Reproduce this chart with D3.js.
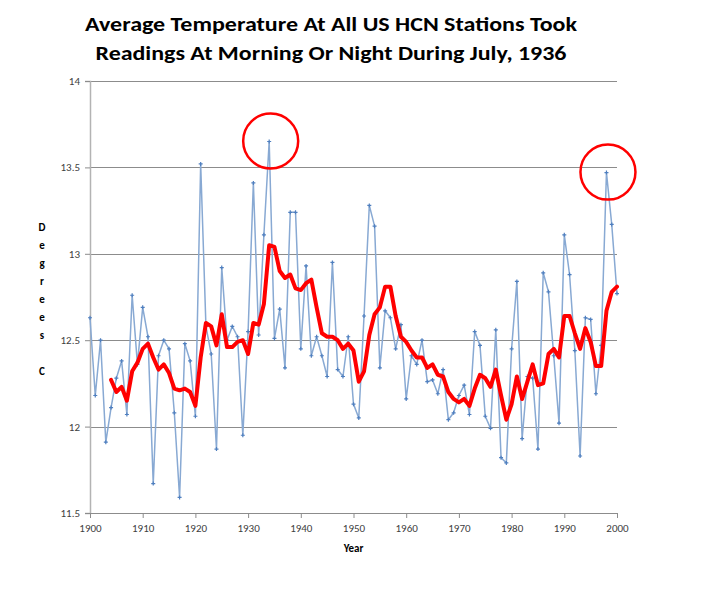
<!DOCTYPE html>
<html>
<head>
<meta charset="utf-8">
<script src="https://cdn.jsdelivr.net/npm/d3@7"></script>
<style>
  html, body { margin: 0; padding: 0; background: #ffffff; }
  svg { display: block; }
</style>
</head>
<body>
<svg id="chart" width="705" height="592"></svg>
<script>
// ---- data ----
const titleLines = [
  "Average Temperature At All US HCN Stations Took",
  "Readings At Morning Or Night During July, 1936"
];
const xTickYears = [1900, 1910, 1920, 1930, 1940, 1950, 1960, 1970, 1980, 1990, 2000];
const yTickValues = [11.5, 12, 12.5, 13, 13.5, 14];
const yTickLabels = ["11.5", "12", "12.5", "13", "13.5", "14"];
const yTitleLetters = ["D", "e", "g", "r", "e", "e", "s", "", "C"];
const xTitle = "Year";

const yearsAnnual = d3.range(1900, 2001);
const annualTemps = [
  12.63, 12.18, 12.50, 11.91, 12.11, 12.28, 12.38, 12.07, 12.76, 12.36,
  12.69, 12.52, 11.67, 12.41, 12.50, 12.45, 12.08, 11.59, 12.48, 12.38,
  12.06, 13.52, 12.58, 12.42, 11.87, 12.92, 12.50, 12.58, 12.52, 11.95,
  12.55, 13.41, 12.53, 13.11, 13.65, 12.51, 12.68, 12.34, 13.24, 13.24,
  12.45, 12.93, 12.41, 12.52, 12.41, 12.29, 12.95, 12.33, 12.29, 12.52,
  12.13, 12.05, 12.64, 13.28, 13.16, 12.34, 12.67, 12.63, 12.45, 12.59,
  12.16, 12.41, 12.36, 12.50, 12.26, 12.27, 12.19, 12.33, 12.04, 12.08,
  12.18, 12.24, 12.07, 12.55, 12.47, 12.06, 11.99, 12.56, 11.82, 11.79,
  12.45, 12.84, 11.93, 12.29, 12.28, 11.87, 12.89, 12.78, 12.41, 12.02,
  13.11, 12.88, 12.44, 11.83, 12.63, 12.62, 12.19, 12.47, 13.47, 13.17,
  12.77
];

const yearsSmooth = d3.range(1904, 2001);
const smoothTemps = [
  12.27, 12.20, 12.23, 12.15, 12.32, 12.37,
  12.45, 12.48, 12.40, 12.33, 12.36, 12.31, 12.22, 12.21, 12.22, 12.20,
  12.12, 12.40, 12.60, 12.58, 12.47, 12.65, 12.46, 12.46, 12.49, 12.50,
  12.42, 12.60, 12.59, 12.71, 13.05, 13.04, 12.90, 12.86, 12.88, 12.80,
  12.79, 12.83, 12.85, 12.69, 12.54, 12.52, 12.52, 12.50, 12.45, 12.48,
  12.44, 12.26, 12.32, 12.53, 12.65, 12.69, 12.81, 12.81, 12.64, 12.52,
  12.49, 12.44, 12.40, 12.40, 12.34, 12.36, 12.30, 12.29, 12.20, 12.16,
  12.14, 12.16, 12.12, 12.22, 12.30, 12.28, 12.23, 12.33, 12.18, 12.04,
  12.13, 12.29, 12.16, 12.26, 12.36, 12.24, 12.25, 12.42, 12.45, 12.40,
  12.64, 12.64, 12.54, 12.45, 12.57, 12.49, 12.35, 12.35, 12.67, 12.78,
  12.81
];

const circledYears = [1934, 1998];

// ---- layout ----
const svg = d3.select("#chart");
const plot = { left: 90, right: 617, top: 81, bottom: 513 };

const x = d3.scaleLinear().domain([1900, 2000]).range([plot.left, plot.right]);
const y = d3.scaleLinear().domain([11.5, 14]).range([plot.bottom, plot.top]);

svg.append("rect").attr("width", 705).attr("height", 592).attr("fill", "#ffffff");

// title
const titleFont = "Carlito, 'Open Sans', 'DejaVu Sans', sans-serif";
const titleTargets = [{ y: 31, w: 492 }, { y: 60, w: 471 }];
titleLines.forEach((t, i) => {
  const el = svg.append("text")
    .attr("x", 331)
    .attr("y", titleTargets[i].y)
    .attr("text-anchor", "middle")
    .attr("font-family", titleFont)
    .attr("font-weight", "bold")
    .attr("font-size", 20)
    .attr("fill", "#000000")
    .text(t);
  const w = el.node().getComputedTextLength();
  if (Math.abs(w - titleTargets[i].w) > 4) {
    el.attr("textLength", titleTargets[i].w).attr("lengthAdjust", "spacingAndGlyphs");
  }
});

// gridlines
svg.append("g")
  .selectAll("line")
  .data(yTickValues.filter(v => v > 11.5))
  .join("line")
  .attr("x1", plot.left)
  .attr("x2", plot.right)
  .attr("y1", d => Math.round(y(d)) + 0.5)
  .attr("y2", d => Math.round(y(d)) + 0.5)
  .attr("stroke", "#8c8c8c")
  .attr("stroke-width", 1);

// y axis
const yAxis = d3.axisLeft(y)
  .tickValues(yTickValues)
  .tickFormat((d, i) => yTickLabels[i])
  .tickSize(5)
  .tickPadding(5);
const gy = svg.append("g").attr("transform", `translate(${plot.left},0)`).call(yAxis);
gy.select(".domain").attr("stroke", "#b3b3b3").attr("stroke-width", 1.5);
gy.selectAll(".tick line").attr("stroke", "#8c8c8c");
gy.selectAll(".tick text")
  .attr("font-family", "Carlito, 'Liberation Sans', Arial, sans-serif")
  .attr("font-size", 11)
  .attr("fill", "#404040");

// x axis
const xAxis = d3.axisBottom(x)
  .tickValues(xTickYears)
  .tickFormat(d3.format("d"))
  .tickSize(5)
  .tickPadding(6);
const gx = svg.append("g").attr("transform", `translate(0,${plot.bottom})`).call(xAxis);
gx.select(".domain").attr("stroke", "#8c8c8c").attr("stroke-width", 1);
gx.selectAll(".tick line").attr("stroke", "#8c8c8c");
gx.selectAll(".tick text")
  .attr("font-family", "Carlito, 'Liberation Sans', Arial, sans-serif")
  .attr("font-size", 11)
  .attr("fill", "#404040");

// axis titles
svg.append("text")
  .attr("x", (plot.left + plot.right) / 2)
  .attr("y", 552)
  .attr("text-anchor", "middle")
  .attr("font-family", "Carlito, 'Liberation Sans', Arial, sans-serif")
  .attr("font-weight", "bold")
  .attr("font-size", 11)
  .attr("fill", "#000000")
  .text(xTitle);

svg.append("g")
  .selectAll("text")
  .data(yTitleLetters)
  .join("text")
  .attr("x", 42)
  .attr("y", (d, i) => 231 + i * 18)
  .attr("text-anchor", "middle")
  .attr("font-family", "Carlito, 'Liberation Sans', Arial, sans-serif")
  .attr("font-weight", "bold")
  .attr("font-size", 11)
  .attr("fill", "#000000")
  .text(d => d);

// annual series
const annual = yearsAnnual.map((yr, i) => ({ year: yr, v: annualTemps[i] }));
const smooth = yearsSmooth.map((yr, i) => ({ year: yr, v: smoothTemps[i] }));

const line = d3.line().x(d => x(d.year)).y(d => y(d.v));

svg.append("path")
  .datum(annual)
  .attr("d", line)
  .attr("fill", "none")
  .attr("stroke", "#88a9d3")
  .attr("stroke-width", 1.5)
  .attr("stroke-linejoin", "round");

svg.append("g")
  .selectAll("path")
  .data(annual)
  .join("path")
  .attr("transform", d => `translate(${x(d.year)},${y(d.v)})`)
  .attr("d", "M-2,0H2M0,-2V2")
  .attr("stroke", "#4f7fbf")
  .attr("stroke-width", 1.2)
  .attr("fill", "none");

// smoothed series
svg.append("path")
  .datum(smooth)
  .attr("d", line)
  .attr("fill", "none")
  .attr("stroke", "#ff0000")
  .attr("stroke-width", 4)
  .attr("stroke-linejoin", "round")
  .attr("stroke-linecap", "round");

// annotation circles around the two peaks
svg.append("g")
  .selectAll("circle")
  .data(circledYears.map(yr => annual.find(d => d.year === yr)))
  .join("circle")
  .attr("cx", d => x(d.year) + 1.5)
  .attr("cy", d => y(d.v) - 0.5)
  .attr("r", 27.5)
  .attr("fill", "none")
  .attr("stroke", "#ff0000")
  .attr("stroke-width", 2.5);
</script>
</body>
</html>
